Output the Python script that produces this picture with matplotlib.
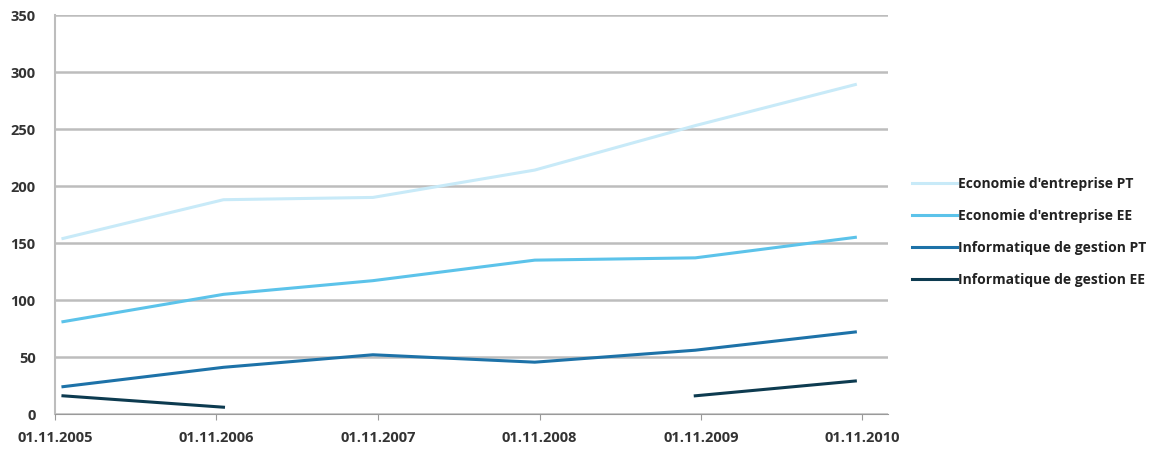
import matplotlib.pyplot as plt
import matplotlib.dates as mdates
import numpy as np
import pandas as pd

dates = pd.to_datetime(["2005-11-19", "2006-11-17", "2007-10-21",
                        "2008-10-21", "2009-10-19", "2010-10-16"])
eco_pt = [154, 188, 190, 214, 253, 289]
eco_ee = [81, 105, 117, 135, 137, 155]
info_pt = [24, 41, 52, 45.5, 56, 72]
info_ee = [16, 6, np.nan, np.nan, 16, 29]
labels = ["Economie d'entreprise PT", "Economie d'entreprise EE",
          "Informatique de gestion PT", "Informatique de gestion EE"]
colors = ["#c8eaf8", "#5cc3ea", "#1d72a8", "#0d3b50"]
tick_dates = pd.to_datetime(["2005-11-01", "2006-11-01", "2007-11-01",
                             "2008-11-01", "2009-11-01", "2010-11-01"])

plt.rcParams['font.family'] = ['Open Sans', 'DejaVu Sans']
fig = plt.figure(figsize=(11.58, 4.55), dpi=100)
ax = fig.add_axes([0.0475, 0.09, 0.719, 0.877])

for vals, lab, col in zip([eco_pt, eco_ee, info_pt, info_ee], labels, colors):
    ax.plot(dates, vals, color=col, lw=2.2, label=lab)

ax.set_ylim(0, 350)
ax.set_yticks(range(0, 351, 50))
ax.set_xlim(pd.Timestamp("2005-11-01"), pd.Timestamp("2010-12-28"))
ax.set_xticks(tick_dates)
ax.xaxis.set_major_formatter(mdates.DateFormatter("%d.%m.%Y"))
ax.grid(axis="y", color="#bdbdbd", lw=1.8)
ax.set_axisbelow(True)
for s in ["top", "right"]:
    ax.spines[s].set_visible(False)
ax.spines["left"].set_color("#bdbdbd")
ax.spines["bottom"].set_color("#9a9a9a")
ax.spines["left"].set_linewidth(1.5)
ax.tick_params(axis="y", length=0, pad=14, labelsize=10.5, labelcolor="#333333")
ax.tick_params(axis="x", length=4, color="#9a9a9a", pad=8, labelsize=10.5,
               labelcolor="#333333")
for t in ax.get_xticklabels() + ax.get_yticklabels():
    t.set_fontweight("bold")

leg = fig.legend(loc="center left", bbox_to_anchor=(0.777, 0.49), frameon=False,
                 handlelength=3.2, handletextpad=0.1, labelspacing=1.3,
                 prop={"size": 10, "weight": "bold"})
for t in leg.get_texts():
    t.set_color("#222222")

fig.savefig("out.png", dpi=100)
